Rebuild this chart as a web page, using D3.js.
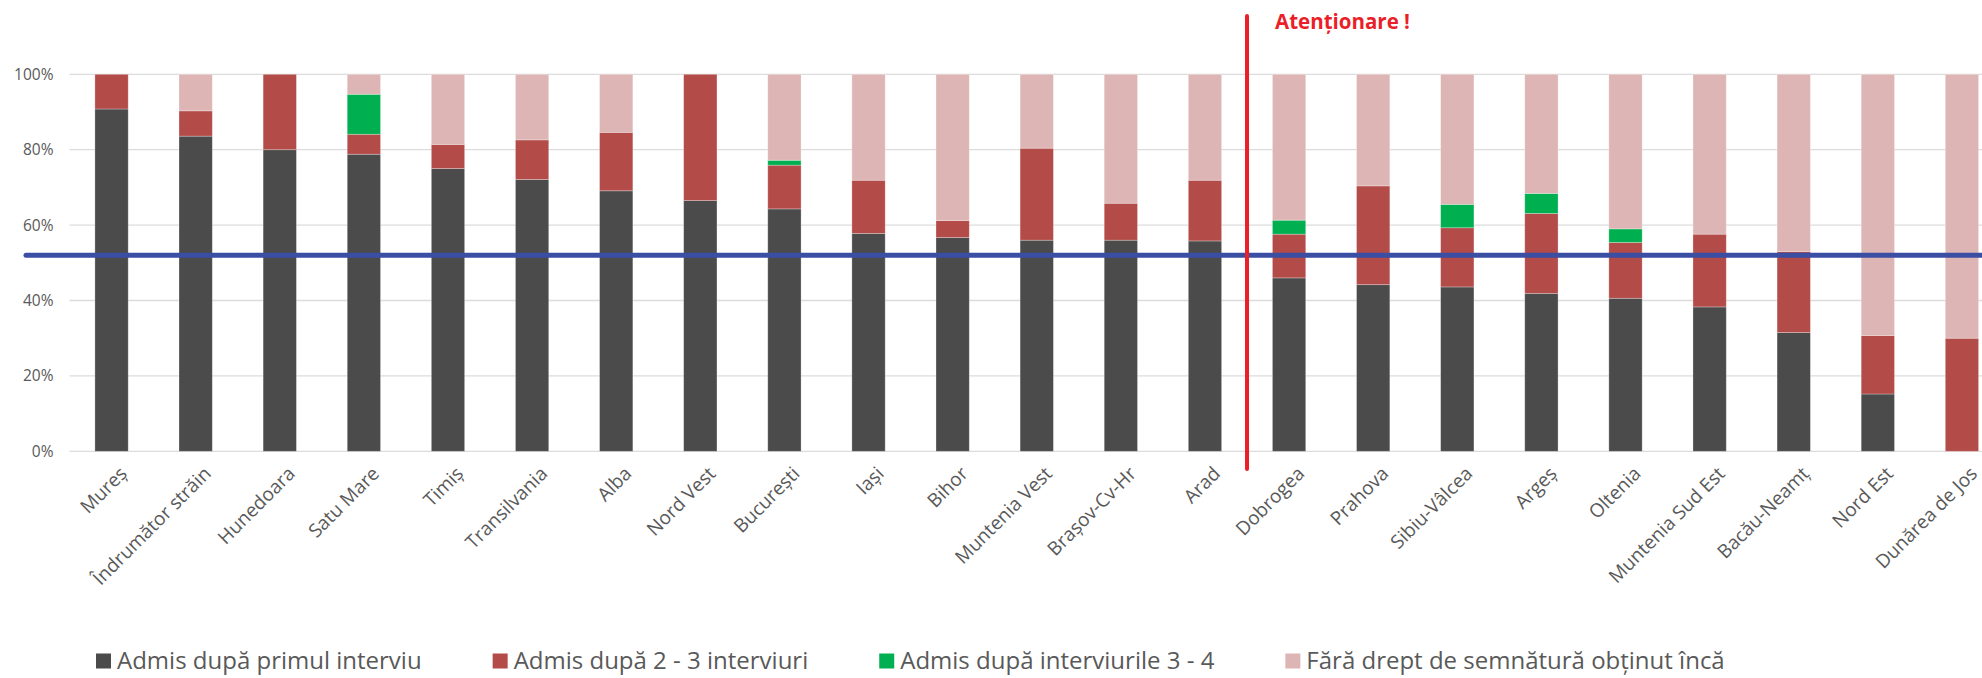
<!DOCTYPE html>
<html>
<head>
<meta charset="utf-8">
<script src="https://cdn.jsdelivr.net/npm/d3@7"></script>
<style>
  body { margin: 0; background: #fff; }
  svg { display: block; font-family: "Open Sans", sans-serif; }
</style>
</head>
<body>
<div id="chart"></div>
<script>
// Culori
var grey30 = "#4b4b4b";
var red45 = "#b34b48";
var green = "#00b050";
var pink80 = "#deb5b5";
var textGrey = "#595959";
var gridGrey = "#dcdcdc";
var pragBlue = "#3a4ea3";
var alertRed = "#ea1f29";

// Date
const categorii = ["Mureș", "Îndrumător străin", "Hunedoara", "Satu Mare", "Timiș", "Transilvania",
    "Alba", "Nord Vest", "București", "Iași", "Bihor", "Muntenia Vest", "Brașov-Cv-Hr", "Arad",
    "Dobrogea", "Prahova", "Sibiu-Vâlcea", "Argeș", "Oltenia", "Muntenia Sud Est", "Bacău-Neamț",
    "Nord Est", "Dunărea de Jos"];
const primulInterviu = [90.8, 83.6, 80, 78.8, 75, 72.1, 69.1, 66.5, 64.3, 57.8, 56.7, 56, 56, 55.8,
    46, 44.2, 43.6, 41.9, 40.6, 38.3, 31.5, 15.2, 0];
const interviuri23 = [9.2, 6.7, 20, 5.3, 6.4, 10.5, 15.5, 33.5, 11.6, 14.1, 4.5, 24.4, 9.8, 16.1,
    11.6, 26.2, 15.7, 21.2, 14.8, 19.3, 21.5, 15.5, 30];
const interviuri34 = [0, 0, 0, 10.6, 0, 0, 0, 0, 1.3, 0, 0, 0, 0, 0,
    3.7, 0, 6.2, 5.3, 3.6, 0, 0, 0, 0];
const faraDrept = [0, 9.7, 0, 5.3, 18.6, 17.4, 15.4, 0, 22.8, 28.1, 38.8, 19.6, 34.2, 28.1,
    38.7, 29.6, 34.5, 31.6, 41, 42.4, 47, 69.3, 70];
const serii = ["Admis după primul interviu", "Admis după 2 - 3 interviuri",
    "Admis după interviurile 3 - 4", "Fără drept de semnătură obținut încă"];
const culori = [grey30, red45, green, pink80];
const yTicks = [0, 20, 40, 60, 80, 100];
const prag = 52;              // linia albastra
const separatorDupa = "Arad"; // linia rosie
const atentionare = "Atenționare !";

const W = 1982, H = 678;
const plot = { left: 69.5, right: 2004, top: 74.3, bottom: 451.3 };

const svg = d3.select("#chart").append("svg")
    .attr("width", W).attr("height", H);

const rows = categorii.map((c, i) => ({
    cat: c, s0: primulInterviu[i], s1: interviuri23[i], s2: interviuri34[i], s3: faraDrept[i]
}));
const stack = d3.stack().keys(["s0", "s1", "s2", "s3"])(rows);

const x = d3.scaleBand()
    .domain(categorii)
    .range([plot.left, plot.right])
    .paddingInner(0.604)
    .paddingOuter(0.302);

const y = d3.scaleLinear()
    .domain([0, 100])
    .range([plot.bottom, plot.top]);

// grid
svg.append("g")
    .selectAll("line")
    .data(yTicks)
    .enter().append("line")
    .attr("x1", plot.left).attr("x2", W)
    .attr("y1", d => y(d)).attr("y2", d => y(d))
    .attr("stroke", gridGrey)
    .attr("stroke-width", 1.3);

// Y axis
const yAxis = svg.append("g")
    .attr("transform", `translate(${plot.left - 13}, 0)`)
    .call(d3.axisLeft(y).tickValues(yTicks).tickSize(0).tickFormat(d => d + "%"));
yAxis.select(".domain").remove();
yAxis.selectAll("text")
    .style("font-family", "Open Sans")
    .style("font-size", "15.5px")
    .style("fill", textGrey);

// bars
svg.append("g")
    .selectAll("g")
    .data(stack)
    .enter().append("g")
    .attr("fill", (d, i) => culori[i])
    .selectAll("rect")
    .data(d => d)
    .enter().append("rect")
    .attr("x", d => x(d.data.cat))
    .attr("width", x.bandwidth())
    .attr("y", d => y(d[1]))
    .attr("height", d => y(d[0]) - y(d[1]))
    .attr("stroke", "#ffffff")
    .attr("stroke-opacity", 0.35)
    .attr("stroke-width", 0.8);

// X axis
const xAxis = svg.append("g")
    .attr("transform", `translate(0, ${plot.bottom + 12})`)
    .call(d3.axisBottom(x).tickSize(0));
xAxis.select(".domain").remove();
xAxis.selectAll("text")
    .attr("text-anchor", "end")
    .attr("transform", "translate(5, 0) rotate(-45)")
    .attr("dy", "0.7em")
    .style("font-family", "Open Sans")
    .style("font-size", "19px")
    .style("fill", textGrey);

// linia de prag
svg.append("line")
    .attr("x1", 26).attr("x2", W + 5)
    .attr("y1", y(prag)).attr("y2", y(prag))
    .attr("stroke", pragBlue)
    .attr("stroke-width", 5)
    .attr("stroke-linecap", "round");

// separator + atentionare
const idx = categorii.indexOf(separatorDupa);
const sepX = (x(categorii[idx]) + x.bandwidth() + x(categorii[idx + 1])) / 2;
svg.append("line")
    .attr("x1", sepX).attr("x2", sepX)
    .attr("y1", 16).attr("y2", 469)
    .attr("stroke", alertRed)
    .attr("stroke-width", 4)
    .attr("stroke-linecap", "round");
svg.append("text")
    .text(atentionare)
    .attr("x", sepX + 28)
    .attr("y", 29)
    .attr("font-size", "20.5px")
    .attr("font-weight", "bold")
    .attr("font-family", "Open Sans")
    .style("fill", alertRed);

// legend
const legend = svg.append("g").attr("transform", "translate(96, 661)");
let lx = 0;
serii.forEach((s, i) => {
    const g = legend.append("g").attr("transform", `translate(${lx}, 0)`);
    g.append("rect")
        .attr("x", 0).attr("y", -7.5)
        .attr("width", 15).attr("height", 15)
        .attr("fill", culori[i]);
    const t = g.append("text")
        .text(s)
        .attr("x", 21).attr("y", 0)
        .attr("dy", "0.35em")
        .attr("font-size", "24px")
        .attr("font-family", "Open Sans")
        .style("fill", textGrey);
    lx += 21 + t.node().getComputedTextLength() + 71;
});
</script>
</body>
</html>
